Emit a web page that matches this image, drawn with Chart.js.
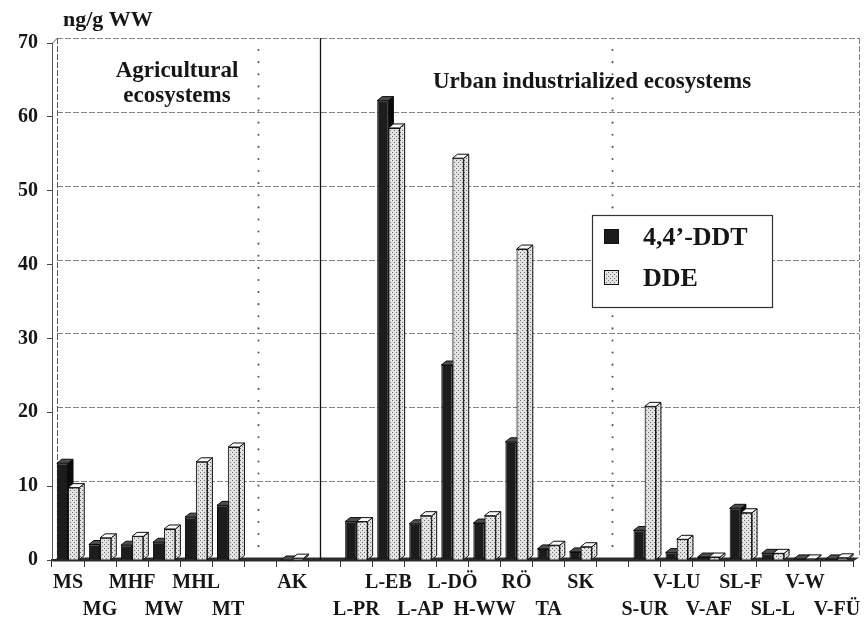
<!DOCTYPE html>
<html>
<head>
<meta charset="utf-8">
<script src="https://cdn.jsdelivr.net/npm/chart.js@4.4.1/dist/chart.umd.min.js"></script>
<style>
  html, body { margin: 0; padding: 0; background: #fff; }
  canvas { display: block; }
</style>
</head>
<body>
<canvas id="chart" width="865" height="622"></canvas>
<script>
// Sampling sites (blank entries are spacer columns between site groups)
const categories = ['MS', 'MG', 'MHF', 'MW', 'MHL', 'MT', '', 'AK', '', 'L-PR', 'L-EB', 'L-AP',
  'L-DÖ', 'H-WW', 'RÖ', 'TA', 'SK', '', 'S-UR', 'V-LU', 'V-AF', 'SL-F', 'SL-L', 'V-W', 'V-FÜ'];

// Concentrations, ng/g wet weight
const ddtValues = [13.1, 2.1, 2.0, 2.4, 5.8, 7.4, null, 0, null, 5.2, 62.2, 4.9,
  26.4, 5.0, 16.0, 1.5, 1.1, null, 4.0, 1.0, 0.4, 7.0, 0.9, 0.15, 0.15];
const ddeValues = [9.8, 3.0, 3.2, 4.2, 13.3, 15.3, null, 0.25, null, 5.2, 58.5, 6.0,
  54.4, 6.0, 42.1, 2.0, 1.8, null, 20.8, 2.8, 0.4, 6.4, 0.9, 0.15, 0.3];

const seriesNames = ['4,4’-DDT', 'DDE'];
const yTicks = [0, 10, 20, 30, 40, 50, 60, 70];
const yUnit = 'ng/g WW';
const groupTitles = [['Agricultural', 'ecosystems'], ['Urban industrialized ecosystems']];

const SERIF = "'Liberation Serif', 'Times New Roman', serif";
const INK = '#161616';

// site labels alternate between two rows, counting only named sites
const labelRow = [];
{
  let n = 0;
  categories.forEach((c, i) => { labelRow[i] = c ? (n++ % 2) : 0; });
}

// dotted fill used for the DDE columns
function makeDots(ctx) {
  const tile = document.createElement('canvas');
  tile.width = 4; tile.height = 4;
  const g = tile.getContext('2d');
  g.fillStyle = '#e3e3e3';
  g.fillRect(0, 0, 4, 4);
  g.fillStyle = '#6c6c6c';
  g.fillRect(0, 0, 1, 1);
  g.fillRect(2, 2, 1, 1);
  return ctx.createPattern(tile, 'repeat');
}

const canvas = document.getElementById('chart');
const ctx2d = canvas.getContext('2d');
const dots = makeDots(ctx2d);

// column depth and back-wall offset of the pseudo-3D look
const BAR_DX = 5, BAR_DY = 4;
const WALL_DX = 6, WALL_DY = 5;

function line(ctx, x1, y1, x2, y2) {
  ctx.beginPath(); ctx.moveTo(x1, y1); ctx.lineTo(x2, y2); ctx.stroke();
}

// back walls, floor, gridlines, group separators and group titles
const wallsPlugin = {
  id: 'walls',
  beforeDatasetsDraw(chart) {
    const { ctx, chartArea: a, scales: { x, y } } = chart;
    const topY = y.getPixelForValue(yTicks[yTicks.length - 1]);
    ctx.save();

    // back-wall gridlines
    ctx.strokeStyle = '#838383';
    ctx.lineWidth = 1;
    ctx.setLineDash([6, 2]);
    yTicks.forEach(v => {
      if (v === 0) return;
      const py = Math.round(y.getPixelForValue(v) - WALL_DY) + 0.5;
      line(ctx, a.left + WALL_DX - 1, py, a.right + WALL_DX, py);
    });
    // right wall edge
    line(ctx, a.right + WALL_DX + 0.5, topY - WALL_DY, a.right + WALL_DX + 0.5, a.bottom - WALL_DY);
    // left back-wall edge
    ctx.strokeStyle = '#5a5a5a';
    line(ctx, a.left + WALL_DX - 0.5, topY - WALL_DY, a.left + WALL_DX - 0.5, a.bottom - WALL_DY);
    ctx.setLineDash([]);
    line(ctx, a.left + 0.5, topY, a.left + WALL_DX - 0.5, topY - WALL_DY);

    // floor
    ctx.fillStyle = '#2c2c2c';
    ctx.beginPath();
    ctx.moveTo(a.left, a.bottom + 1.5);
    ctx.lineTo(a.right, a.bottom + 1.5);
    ctx.lineTo(a.right + WALL_DX, a.bottom - 2.5);
    ctx.lineTo(a.left + WALL_DX, a.bottom - 2.5);
    ctx.closePath();
    ctx.fill();

    // group separators
    const px = v => Math.round(x.getPixelForValue(v)) + 0.5;
    ctx.strokeStyle = '#111';
    ctx.lineWidth = 1.3;
    line(ctx, px(7.87), topY - WALL_DY, px(7.87), a.bottom);
    ctx.strokeStyle = '#555';
    ctx.lineWidth = 2;
    ctx.lineCap = 'round';
    ctx.setLineDash([0.1, 12]);
    [5.93, 16.97].forEach(v => line(ctx, px(v), topY + 7, px(v), a.bottom - 4));
    ctx.setLineDash([]);

    // group titles and unit
    ctx.fillStyle = INK;
    ctx.textAlign = 'center';
    ctx.textBaseline = 'middle';
    ctx.font = `bold 23px ${SERIF}`;
    ctx.fillText(groupTitles[0][0], 177, 71);
    ctx.fillText(groupTitles[0][1], 177, 96);
    ctx.fillText(groupTitles[1][0], 592, 82);
    ctx.textAlign = 'left';
    ctx.font = `bold 22px ${SERIF}`;
    ctx.fillText(yUnit, 63, 20);
    ctx.restore();
  }
};

// side and top faces of the columns
function drawFaces(ctx, chart, dsIndex) {
  const meta = chart.getDatasetMeta(dsIndex);
  const dark = dsIndex === 0;
  meta.data.forEach((bar, i) => {
    if (chart.data.datasets[dsIndex].data[i] == null) return;
    const { x, y, base, width } = bar.getProps(['x', 'y', 'base', 'width'], true);
    const l = x - width / 2, r = x + width / 2;
    ctx.save();
    ctx.lineWidth = 1;
    ctx.strokeStyle = '#0e0e0e';
    ctx.lineJoin = 'round';
    ctx.beginPath();
    ctx.moveTo(r, base); ctx.lineTo(r, y);
    ctx.lineTo(r + BAR_DX, y - BAR_DY); ctx.lineTo(r + BAR_DX, base - BAR_DY);
    ctx.closePath();
    ctx.fillStyle = dark ? '#0b0b0b' : dots;
    ctx.fill(); ctx.stroke();
    ctx.beginPath();
    ctx.moveTo(l, y); ctx.lineTo(l + BAR_DX, y - BAR_DY);
    ctx.lineTo(r + BAR_DX, y - BAR_DY); ctx.lineTo(r, y);
    ctx.closePath();
    ctx.fillStyle = dark ? '#4d4d4d' : '#fafafa';
    ctx.fill(); ctx.stroke();
    ctx.restore();
  });
}

const depthPlugin = {
  id: 'depth',
  afterDatasetsDraw(chart) {
    const ctx = chart.ctx;
    drawFaces(ctx, chart, 0);
    // DDE columns stand in front of the DDT side faces
    chart.getDatasetMeta(1).data.forEach((bar, i) => {
      if (chart.data.datasets[1].data[i] != null) bar.draw(ctx);
    });
    drawFaces(ctx, chart, 1);
  }
};

// boxed legend inside the plot
const legendPlugin = {
  id: 'boxLegend',
  afterDraw(chart) {
    const ctx = chart.ctx;
    const ds = chart.data.datasets;
    ctx.save();
    ctx.fillStyle = '#fff';
    ctx.strokeStyle = '#333';
    ctx.lineWidth = 1.2;
    ctx.fillRect(592, 215, 180, 92);
    ctx.strokeRect(592.5, 215.5, 180, 92);
    const rows = [237, 278];
    ds.forEach((d, i) => {
      ctx.fillStyle = d.backgroundColor;
      ctx.fillRect(604, rows[i] - 8, 15, 15);
      ctx.strokeStyle = '#111';
      ctx.lineWidth = 1;
      ctx.strokeRect(604.5, rows[i] - 7.5, 14, 14);
      ctx.fillStyle = INK;
      ctx.font = `bold 26px ${SERIF}`;
      ctx.textAlign = 'left';
      ctx.textBaseline = 'middle';
      ctx.fillText(d.label, 643, rows[i] + 1);
    });
    ctx.restore();
  }
};

new Chart(ctx2d, {
  type: 'bar',
  data: {
    labels: categories,
    datasets: [
      { label: seriesNames[0], data: ddtValues, backgroundColor: '#1c1c1c', borderColor: '#0a0a0a', borderWidth: 1 },
      { label: seriesNames[1], data: ddeValues, backgroundColor: dots, borderColor: '#1a1a1a', borderWidth: 1 }
    ]
  },
  options: {
    responsive: false,
    animation: false,
    devicePixelRatio: 1,
    layout: { padding: { top: 43, right: 12, left: 0, bottom: 0 } },
    datasets: { bar: { categoryPercentage: 0.70, barPercentage: 1.0 } },
    plugins: { legend: { display: false }, title: { display: false }, tooltip: { enabled: false } },
    scales: {
      x: {
        grid: { display: true, drawOnChartArea: false, drawTicks: true, tickLength: 7, color: '#333', offset: true },
        border: { display: true, color: '#222', width: 2 },
        ticks: {
          autoSkip: false, maxRotation: 0, minRotation: 0, padding: 2, color: INK,
          font: { family: SERIF, size: 20, weight: 'bold', lineHeight: 1.35 },
          callback: (v, i) => (labelRow[i] === 0 ? [categories[i], ''] : ['', categories[i]])
        },
        afterFit: s => { s.height = 62; }
      },
      y: {
        min: 0, max: 70,
        afterBuildTicks: s => { s.ticks = yTicks.map(v => ({ value: v })); },
        ticks: { padding: 9, color: INK, font: { family: SERIF, size: 20, weight: 'bold' } },
        grid: { drawOnChartArea: false, drawTicks: true, tickLength: 5, color: '#444' },
        border: { display: true, color: '#555', width: 1 },
        afterFit: s => { s.width = 52; }
      }
    }
  },
  plugins: [wallsPlugin, depthPlugin, legendPlugin]
});
</script>
</body>
</html>
